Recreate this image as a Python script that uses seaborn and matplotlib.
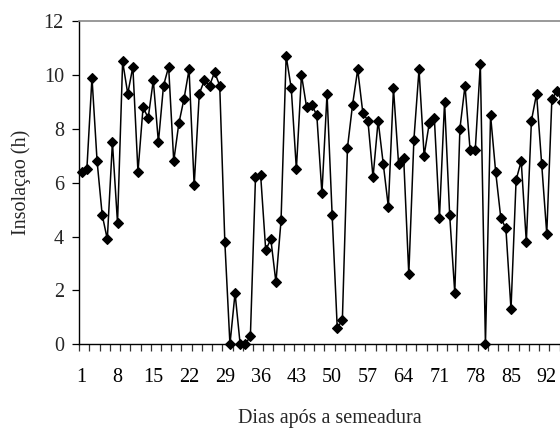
import matplotlib
matplotlib.use("Agg")
import matplotlib.pyplot as plt
import seaborn as sns
import numpy as np
import pandas as pd

days = list(range(1, 96))
insolacao = [6.4, 6.5, 9.9, 6.8, 4.8, 3.9, 7.5, 4.5, 10.5, 9.3,
             10.3, 6.4, 8.8, 8.4, 9.8, 7.5, 9.6, 10.3, 6.8, 8.2,
             9.1, 10.2, 5.9, 9.3, 9.8, 9.6, 10.1, 9.6, 3.8, 0.0,
             1.9, 0.0, 0.0, 0.3, 6.2, 6.3, 3.5, 3.9, 2.3, 4.6,
             10.7, 9.5, 6.5, 10.0, 8.8, 8.9, 8.5, 5.6, 9.3, 4.8,
             0.6, 0.9, 7.3, 8.9, 10.2, 8.6, 8.3, 6.2, 8.3, 6.7,
             5.1, 9.5, 6.7, 6.9, 2.6, 7.6, 10.2, 7.0, 8.2, 8.4,
             4.7, 9.0, 4.8, 1.9, 8.0, 9.6, 7.2, 7.2, 10.4, 0.0,
             8.5, 6.4, 4.7, 4.3, 1.3, 6.1, 6.8, 3.8, 8.3, 9.3,
             6.7, 4.1, 9.1, 9.4, 9.0]
xtick_labels = [1, 8, 15, 22, 29, 36, 43, 50, 57, 64, 71, 78, 85, 92]
yticks = [0, 2, 4, 6, 8, 10, 12]

df = pd.DataFrame({"dia": days, "ins": insolacao})

sns.set_style("white")
plt.rcParams["font.family"] = ["Liberation Serif", "DejaVu Serif"]

fig = plt.figure(figsize=(5.6, 4.3), dpi=100)
W, H = 560, 430
x0, xr = 0.5, 98.5
pxday = 5.11
left_px, bottom_px, top_px = 79.2, 344.3, 21.0
ax = fig.add_axes([left_px / W, (H - bottom_px) / H,
                   (xr - x0) * pxday / W, (bottom_px - top_px) / H])

sns.lineplot(data=df, x="dia", y="ins", ax=ax, color="black", linewidth=1.1,
             marker="D", markersize=5.0, markeredgecolor="black",
             markerfacecolor="black", markeredgewidth=0.8, clip_on=False)

ax.set_xlim(x0, xr)
ax.set_ylim(0, 12)
ax.set_yticks(yticks)
ax.set_xticks(xtick_labels)
ax.set_xticklabels([str(v) for v in xtick_labels])
ax.set_xticks(np.arange(0.5, xr + 0.01, 2), minor=True)

fs = 14.5
ax.tick_params(axis="x", which="major", length=0, pad=17, labelsize=fs,
               colors="black")
ax.tick_params(axis="x", which="minor", length=5, width=0.9, direction="out",
               bottom=True, color="#333333")
ax.tick_params(axis="y", which="major", length=5, width=0.9, direction="out",
               left=True, pad=6, labelsize=fs, color="black")

for s in ["left", "bottom"]:
    ax.spines[s].set_color("black")
    ax.spines[s].set_linewidth(1.0)
ax.spines["top"].set_color("#888888")
ax.spines["top"].set_linewidth(1.2)
ax.spines["right"].set_visible(False)

ax.set_xlabel("Dias após a semeadura", fontsize=fs)
ax.set_ylabel("Insolaçao (h)", fontsize=fs)
axw = (xr - x0) * pxday
ax.xaxis.set_label_coords(0.5, -(409 - bottom_px) / (bottom_px - top_px))
ax.yaxis.set_label_coords(-(79.2 - 31) / axw, 0.5)

fig.savefig("out.png", dpi=100)
